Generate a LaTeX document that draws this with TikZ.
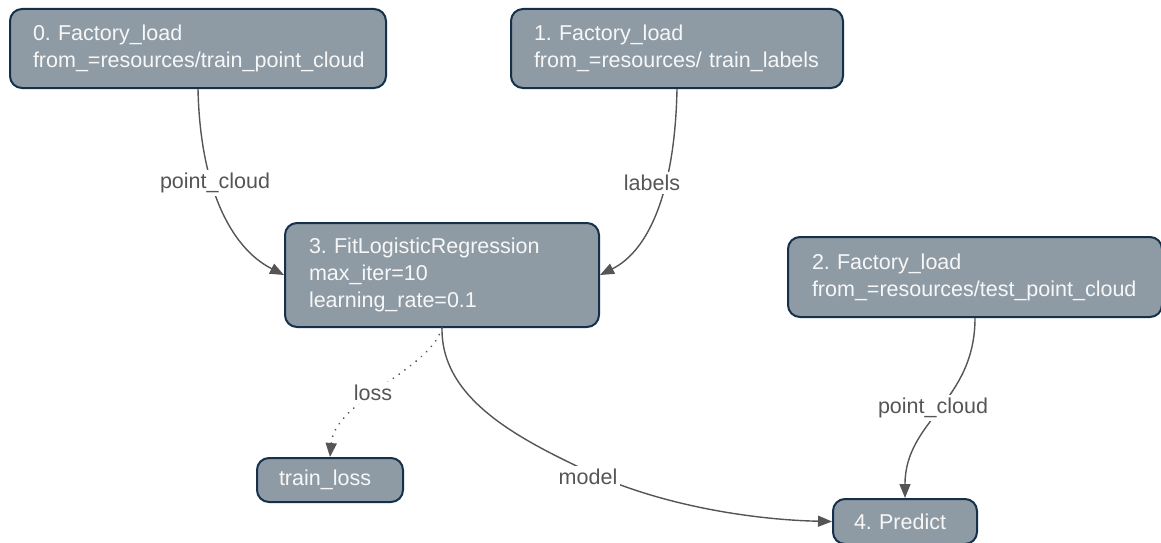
\documentclass[tikz,border=0pt]{standalone}
\usepackage{fontspec}
\setmainfont{Liberation Sans}
\usetikzlibrary{arrows.meta}
\definecolor{boxfill}{HTML}{8E9BA5}
\definecolor{boxdraw}{HTML}{15304A}
\definecolor{boxtext}{HTML}{F7F7F7}
\definecolor{edgecol}{HTML}{555555}
\frenchspacing
\tikzset{
  box/.style={draw=boxdraw, fill=boxfill, line width=2pt, rounded corners=12pt,
    text=boxtext, font=\fontsize{21.5}{27}\selectfont, align=left,
    inner xsep=23pt, inner ysep=0pt, anchor=north west},
  edge/.style={draw=edgecol, line width=1.4pt, -{Triangle[length=14pt,width=11pt]}},
  dotedge/.style={edge, line cap=round, dash pattern=on 0.1pt off 7pt, line width=1.9pt},
  elabel/.style={fill=white, text=edgecol, font=\fontsize{21.5}{25}\selectfont, inner sep=3pt}
}
\begin{document}
\begin{tikzpicture}[x=1pt,y=-1pt]
\useasboundingbox (0,0) rectangle (1161,543);
\node[box, minimum width=376pt, minimum height=79pt, text width=330pt] (n0) at (9,8)
  {0. Factory\_load\\from\_=resources/train\_point\_cloud};
\node[box, minimum width=332pt, minimum height=79pt, text width=286pt] (n1) at (510,8)
  {1. Factory\_load\\from\_=resources/ train\_labels};
\node[box, minimum width=314pt, minimum height=104pt, text width=266pt, inner xsep=24pt] (n3) at (284,222)
  {3. FitLogisticRegression\\max\_iter=10\\learning\_rate=0.1};
\node[box, minimum width=374pt, minimum height=80pt, text width=326pt, inner xsep=24pt] (n2) at (787,236)
  {2. Factory\_load\\from\_=resources/test\_point\_cloud};
\node[box, minimum width=146pt, minimum height=44pt, text width=102pt, inner xsep=22pt] (tl) at (256,457)
  {train\_loss};
\node[box, minimum width=144pt, minimum height=45pt, text width=102pt, inner xsep=21pt] (n4) at (832,498)
  {4. Predict};

\draw[edge] (n0.south) .. controls +(2,95) and +(-55,-28) .. (n3.west);
\draw[edge] (n1.south) .. controls +(-2,100) and +(50,-25) .. (n3.east);
\draw[edge] (n2.south) .. controls +(0,84) and +(0,-78) .. (n4.north);
\draw[dotedge] (n3.south) .. controls (430,370) and (335,400) .. (tl.north);
\draw[edge] (n3.south) .. controls (441,400) and (520,440) .. (598,476)
   .. controls (672,508) and (760,520) .. (n4.west);

\node[elabel] (l0) at (215,183) {point\_cloud};
\node[elabel] (l1) at (652,183) {labels};
\node[elabel] (l3) at (373,393) {loss};
\node[elabel] (l2) at (933,408) {point\_cloud};
\node[elabel] (l4) at (588,477) {model};
\end{tikzpicture}
\end{document}
